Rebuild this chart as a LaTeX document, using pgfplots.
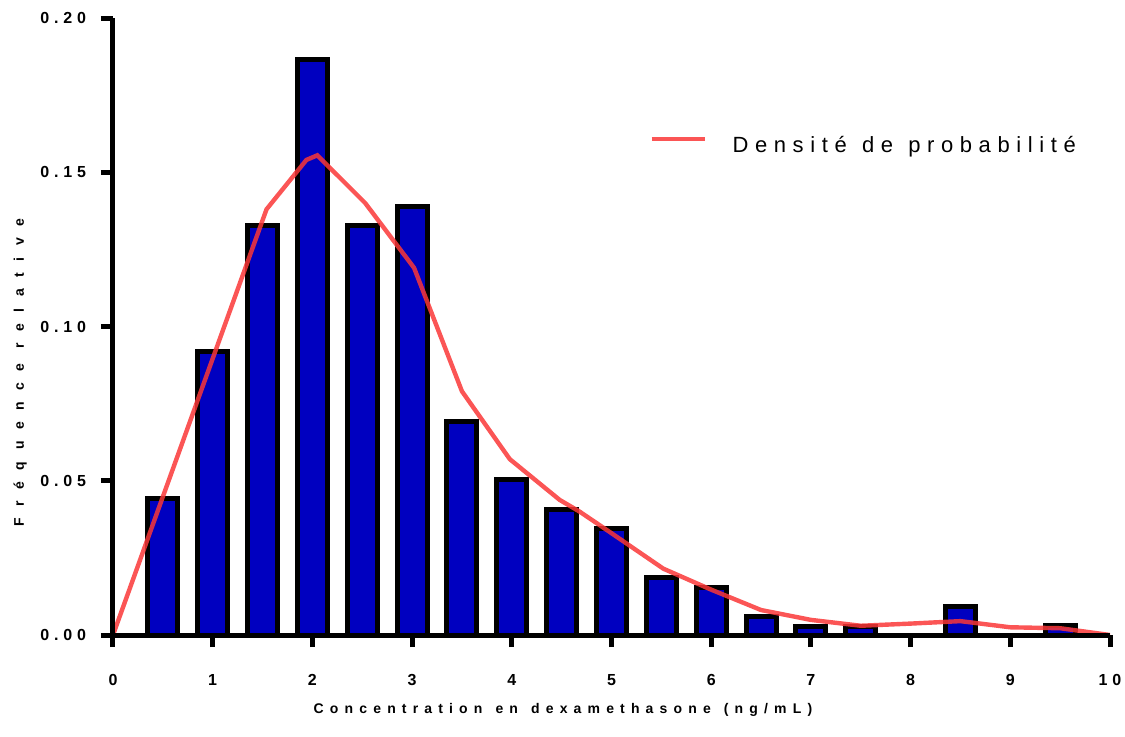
\documentclass[border=0pt]{standalone}
\usepackage{fontspec}
\setmainfont{Liberation Sans}
\newfontfamily\tickfont[LetterSpace=30]{Liberation Sans}
\newfontfamily\labfont[LetterSpace=44,WordSpace=1.3]{Liberation Sans}
\newfontfamily\ylabfont[LetterSpace=82]{Liberation Sans}
\newfontfamily\legfont[LetterSpace=30,WordSpace=1.2]{Liberation Sans}
\usepackage{pgfplots}
\usepackage{pgfplotstable}
\pgfplotsset{compat=1.18}
\definecolor{barblue}{RGB}{0,0,192}
\definecolor{curvered}{RGB}{250,55,55}

\pgfplotstableread{
x y
0.5 0.0442
1.0 0.0920
1.5 0.1326
2.0 0.1867
2.5 0.1326
3.0 0.1389
3.5 0.0692
4.0 0.0503
4.5 0.0408
5.0 0.0345
5.5 0.0187
6.0 0.0155
6.5 0.0060
7.0 0.0029
7.5 0.0029
8.5 0.0092
9.5 0.0030
}\bars

\pgfplotstableread{
x y
0 0
1.54 0.138
1.94 0.154
2.05 0.1555
2.53 0.140
3.02 0.119
3.50 0.079
3.98 0.057
4.48 0.0438
4.68 0.0400
5.0 0.033
5.52 0.0215
6.0 0.0147
6.5 0.0081
7.0 0.0049
7.5 0.0030
8.0 0.0037
8.5 0.0045
9.0 0.0025
9.5 0.0022
10 0
}\curve

\begin{document}
\begin{tikzpicture}
\begin{axis}[
  scale only axis, width=498.5pt, height=308.5pt,
  xmin=0, xmax=10, ymin=0, ymax=0.2,
  axis x line*=bottom, axis y line*=left,
  axis line style={line width=2.5pt, black},
  axis on top,
  xtick={0,1,...,10}, ytick={0,0.05,0.1,0.15,0.2},
  tick style={line width=2.5pt, black},
  major tick length=6pt,
  tick align=outside,
  /pgf/number format/assume math mode=true,
  yticklabel style={/pgf/number format/fixed, /pgf/number format/fixed zerofill, /pgf/number format/precision=2, xshift=-4pt},
  xticklabel style={yshift=-10pt},
  ticklabel style={font=\fontsize{8}{9}\selectfont\tickfont\bfseries},
  xlabel={Concentration en dexamethasone (ng/mL)},
  ylabel={Fréquence relative},
  xlabel style={font=\fontsize{7}{8}\selectfont\labfont\bfseries, at={(axis description cs:0.4513,-0.1264)}, anchor=base},
  ylabel style={font=\fontsize{7}{8}\selectfont\ylabfont\bfseries, at={(axis description cs:-0.0893,0.4254)}, anchor=base},
  legend style={draw=none, fill=none, at={(axis cs:5.376,0.1601)}, anchor=west, inner sep=0pt,
    font=\fontsize{11}{12}\selectfont\legfont, nodes={inner sep=0pt}},
  legend image code/.code={\path[draw=none,fill=none] (0pt,-5pt) rectangle (40.5pt,10pt); \draw[#1] (0pt,3.5pt) -- (26.5pt,3.5pt);},
]
\addplot[ybar, bar width=0.3, fill=barblue, draw=black, line width=2.5pt, forget plot] table[x=x,y=y] {\bars};
\addplot[curvered, line width=2.2pt, opacity=0.85] table[x=x,y=y] {\curve};
\addlegendentry{Densité de probabilité}
\coordinate (O) at (rel axis cs:0,0);
\end{axis}
\pgfresetboundingbox
\path (O) ++(-56.5pt,-50.5pt) rectangle ++(562.5pt,368pt);
\end{tikzpicture}
\end{document}
